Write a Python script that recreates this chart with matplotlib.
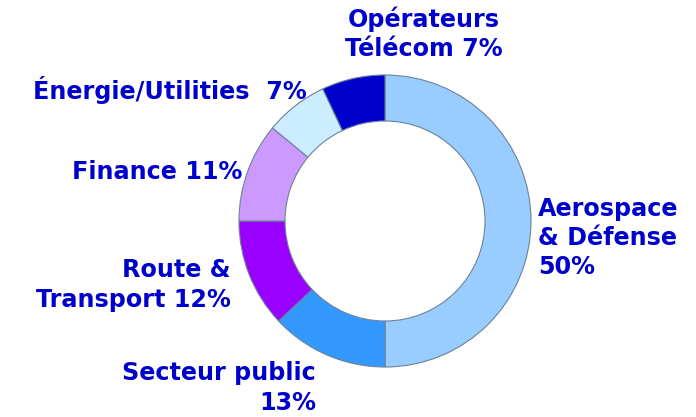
import matplotlib
matplotlib.use("Agg")
import matplotlib.pyplot as plt

labels = ["Aerospace\n& Défense\n50%", "Secteur public\n13%", "Route &\nTransport 12%",
          "Finance 11%", "Énergie/Utilities  7%", "Opérateurs\nTélécom 7%"]
values = [50, 13, 12, 11, 7, 7]
colors = ["#99CCFF", "#3399FF", "#9900FF", "#CC99FF", "#CCECFF", "#0000CC"]

W, H = 696, 417
fig = plt.figure(figsize=(W / 100, H / 100), dpi=100)
ax = fig.add_axes([0, 0, 1, 1])

cx, cy, R = 385, H - 221, 146
ax.pie(values, colors=colors, startangle=90, counterclock=False,
       center=(cx, cy), radius=R,
       wedgeprops=dict(width=R * 0.315, edgecolor="#6b8299", linewidth=0.8))
ax.set_xlim(0, W)
ax.set_ylim(0, H)
ax.set_aspect("equal")
ax.axis("off")

txt = dict(color="#0000CC", fontsize=17.2, fontweight="bold", family="DejaVu Sans",
           linespacing=1.28)
# label positions (pixel coords, y from top) and alignment
pos = [(538, 238, "left"), (316, 388, "right"), (231, 285, "right"),
       (242, 172, "right"), (307, 90, "right"), (424, 34, "center")]
for lab, (x, y, ha) in zip(labels, pos):
    ax.text(x, H - y, lab, ha=ha, va="center", multialignment=ha, **txt)

fig.savefig("out.png", dpi=100)
